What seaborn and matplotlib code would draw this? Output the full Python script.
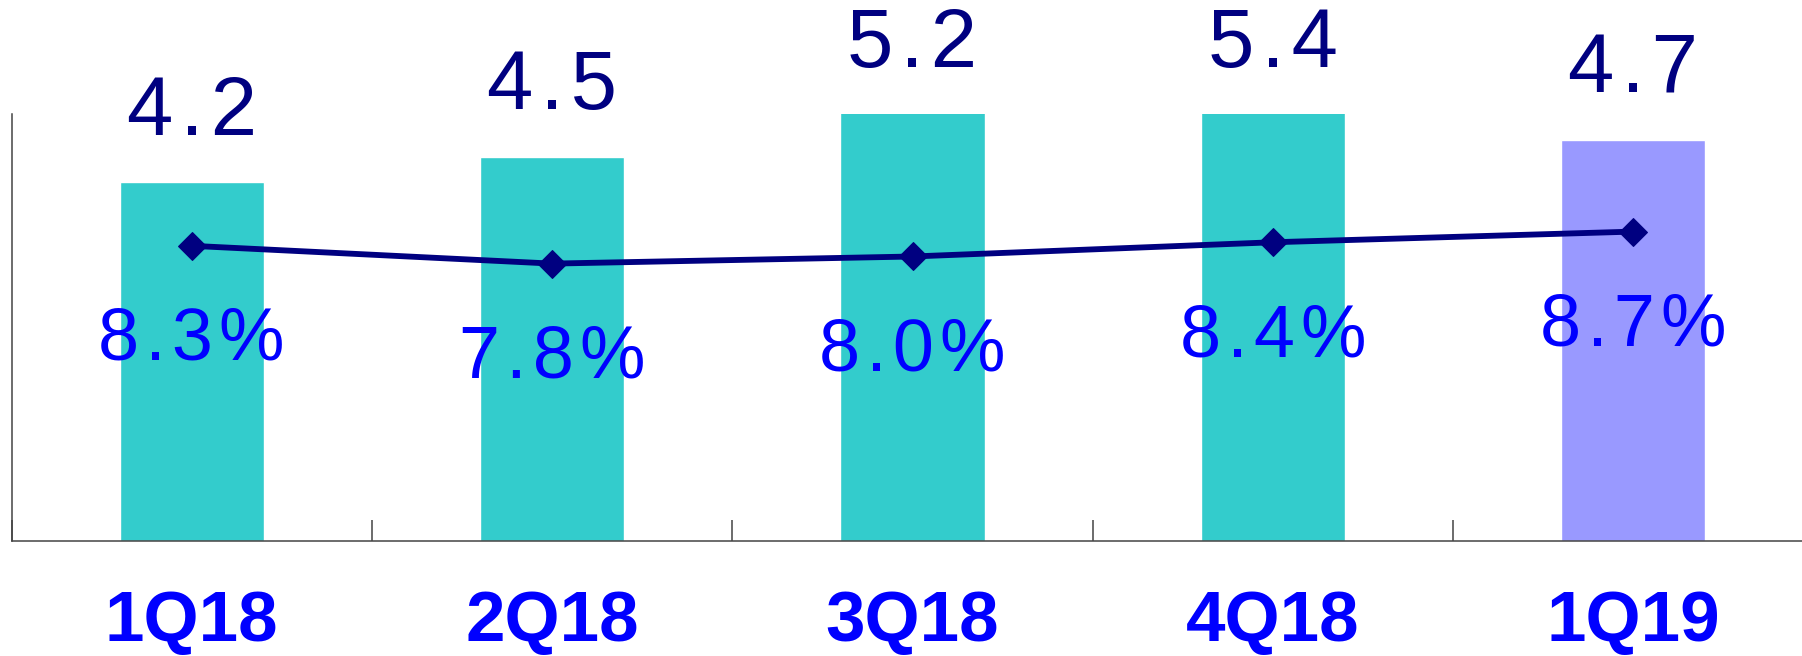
import numpy as np
import pandas as pd
import matplotlib
matplotlib.use("Agg")
import matplotlib.pyplot as plt
import seaborn as sns

sns.set_style("white")
plt.rcParams['font.family'] = ['Liberation Sans', 'DejaVu Sans']

quarters = ["1Q18", "2Q18", "3Q18", "4Q18", "1Q19"]
revenue = [4.2, 4.5, 5.2, 5.4, 4.7]
margin = [8.3, 7.8, 8.0, 8.4, 8.7]
bar_colors = ["#33CCCC", "#33CCCC", "#33CCCC", "#33CCCC", "#9999FF"]

NAVY = "#000080"
BLUE = "#0000FF"
HS = "\u200a"  # hair space, the labels in the original are letter-spaced
YMAX = 5.0

def spaced(s):
    return HS.join(s)

df = pd.DataFrame({"quarter": quarters, "revenue": revenue, "margin": margin})

fig = plt.figure(figsize=(18.02, 6.56), dpi=100)
ax = fig.add_axes([0.0064, 0.175, 1.0, 0.651])

sns.barplot(data=df, x="quarter", y="revenue", hue="quarter", palette=bar_colors,
            width=0.4, saturation=1, legend=False, ax=ax)
ax.set_ylim(0, YMAX)
ax.set_xlim(-0.5, 4.5)

# value labels sit above the (clipped) bar top
for i, v in enumerate(revenue):
    ax.annotate(spaced(f"{v:.1f}"), (i, min(v, YMAX)), xytext=(0, 22), textcoords="offset points",
                ha="center", va="bottom", fontsize=60, color=NAVY,
                annotation_clip=False)

ax2 = ax.twinx()
sns.lineplot(x=np.arange(len(quarters)), y=margin, ax=ax2, color=NAVY,
             linewidth=4.2, marker="D", markersize=14, markeredgecolor=NAVY)
ax2.set_ylim(0, 12)
ax2.set_xlim(-0.5, 4.5)
for i, m in enumerate(margin):
    ax2.annotate(spaced(f"{m:.1f}%"), (i, m), xytext=(0, -68), textcoords="offset points",
                 ha="center", va="center", fontsize=53, color=BLUE)

for a in (ax, ax2):
    a.set_xlabel("")
    a.set_ylabel("")
    a.set_yticks([])
    for s in ("top", "right"):
        a.spines[s].set_visible(False)
ax2.spines["left"].set_visible(False)
ax2.spines["bottom"].set_visible(False)

for s in ("left", "bottom"):
    ax.spines[s].set_color("#444444")
    ax.spines[s].set_linewidth(1.1)

ax.set_xticks(range(len(quarters)))
ax.set_xticklabels(quarters, fontsize=51, fontweight="bold", color=BLUE)
ax.tick_params(axis="x", which="major", bottom=True, length=0, pad=35)
ax.set_xticks(np.arange(-0.5, 4.0, 1.0), minor=True)
ax.tick_params(axis="x", which="minor", bottom=True, direction="in", length=15,
               width=1.1, color="#444444")

fig.savefig("out.png", dpi=100)
